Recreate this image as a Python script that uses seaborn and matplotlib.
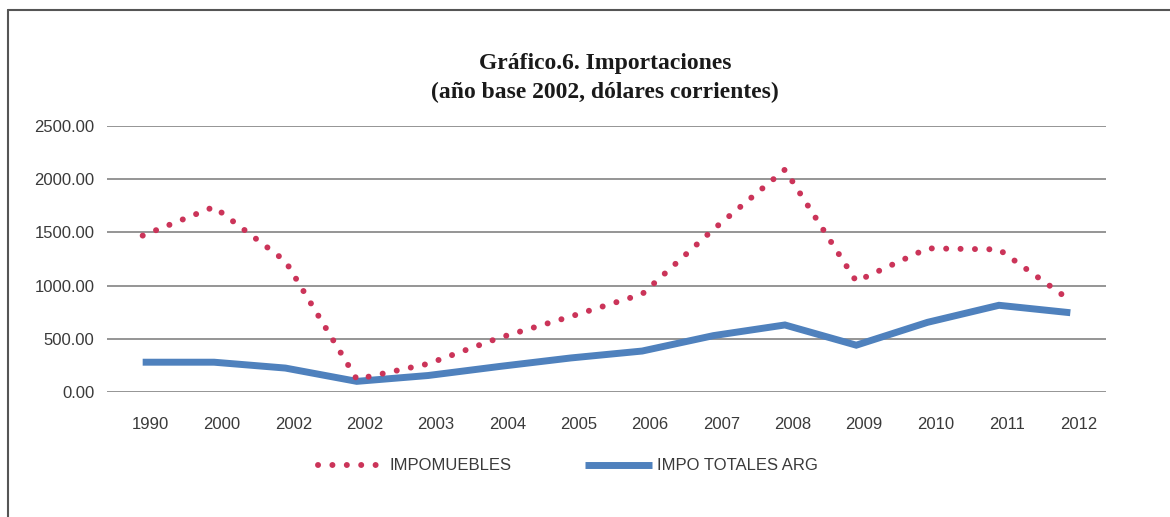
import matplotlib
matplotlib.use("Agg")
import matplotlib.pyplot as plt
import matplotlib.transforms as mtransforms
from matplotlib.lines import Line2D
import numpy as np
import pandas as pd
import seaborn as sns

# Categories on the horizontal axis (as printed, including the repeated 2002)
years = ["1990", "2000", "2002", "2002", "2003", "2004", "2005",
         "2006", "2007", "2008", "2009", "2010", "2011", "2012"]

# Imports of furniture (dotted series)
impomuebles = [1470, 1740, 1230, 120, 265, 510, 710,
               920, 1530, 2090, 1040, 1350, 1340, 860]

# Total Argentine imports (solid series)
impo_totales = [280, 280, 225, 100, 155, 240, 320,
                385, 530, 630, 440, 655, 815, 745]

y_ticks = [0, 500, 1000, 1500, 2000, 2500]

RED = "#CB3459"
BLUE = "#4F81BD"
GRID = "#8C8C8C"
TXT = "#3A3A3A"
DOTS = (0, (0.01, 2.4))

sns.set_theme(style="white")
plt.rcParams["font.family"] = ["Liberation Sans", "DejaVu Sans"]

pos = np.arange(len(years))
df = pd.DataFrame({"pos": pos, "muebles": impomuebles, "totales": impo_totales})

fig = plt.figure(figsize=(11.7, 5.17), dpi=100)
fig.patch.set_facecolor("white")
ax = fig.add_axes([107 / 1170, 1 - 392 / 517, (1106 - 107) / 1170, (392 - 126) / 517])
ax.set_facecolor("white")

sns.lineplot(data=df, x="pos", y="totales", ax=ax, color=BLUE, linewidth=5.0,
             solid_joinstyle="miter", solid_capstyle="butt", zorder=3)
sns.lineplot(data=df, x="pos", y="muebles", ax=ax, color=RED, linewidth=4.3,
             linestyle=DOTS, dash_capstyle="round", zorder=4)

ax.set_xlim(-0.5, len(years) - 0.5)
ax.set_ylim(0, 2500)
ax.set_yticks(y_ticks)
ax.set_yticklabels([f"{v:.2f}" for v in y_ticks])
ax.set_xticks(pos)
ax.set_xticklabels(years)
ax.set_xlabel("")
ax.set_ylabel("")
for s in ax.spines.values():
    s.set_visible(False)
ax.grid(False)
for v in y_ticks:
    ax.axhline(v, color=GRID, linewidth=1.3, zorder=1)
ax.tick_params(axis="both", length=0, labelsize=12, colors=TXT)
ax.tick_params(axis="x", pad=18)
ax.tick_params(axis="y", pad=9)

# category labels sit a little to the right of their points
shift = mtransforms.ScaledTranslation(8 / 100, 0, fig.dpi_scale_trans)
for lbl in ax.get_xticklabels():
    lbl.set_transform(lbl.get_transform() + shift)

fig.text(0.517, 1 - 64 / 517, "Gráfico.6. Importaciones", ha="center", va="center",
         fontsize=17, fontweight="bold", family="Liberation Serif", color="#1a1a1a")
fig.text(0.517, 1 - 92 / 517, "(año base 2002, dólares corrientes)", ha="center",
         va="center", fontsize=17, fontweight="bold", family="Liberation Serif",
         color="#1a1a1a")

handles = [
    Line2D([], [], color=RED, linewidth=4.3, linestyle=DOTS, dash_capstyle="round"),
    Line2D([], [], color=BLUE, linewidth=5.0, solid_capstyle="butt"),
]
fig.legend(handles, ["IMPOMUEBLES", "IMPO TOTALES ARG"], loc="center",
           bbox_to_anchor=(568 / 1170, 1 - 466 / 517), ncol=2, frameon=False,
           fontsize=12, handlelength=4.0, handletextpad=0.3, columnspacing=4.4,
           labelcolor=TXT)

# Outer frame: top and left edges
fig.add_artist(Line2D([8 / 1170, 8 / 1170], [0, 1 - 10 / 517], transform=fig.transFigure,
                      color="#555555", linewidth=1.5))
fig.add_artist(Line2D([8 / 1170, 1], [1 - 10 / 517, 1 - 10 / 517], transform=fig.transFigure,
                      color="#555555", linewidth=1.5))

fig.savefig("out.png", dpi=100, facecolor="white")
